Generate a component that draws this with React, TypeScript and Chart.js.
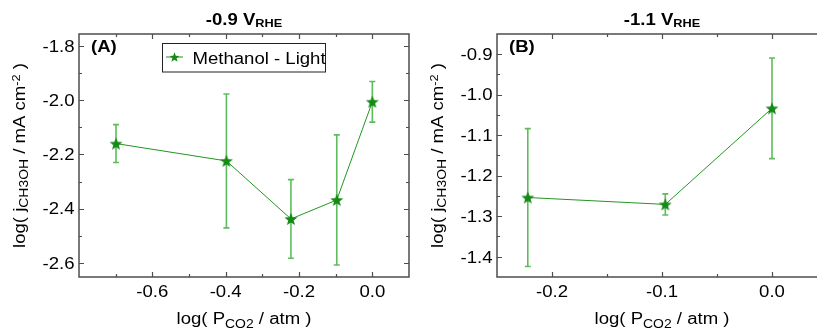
import React, { useEffect, useRef } from 'react';
import { Chart, registerables } from 'chart.js';
Chart.register(...registerables);

// ---------- data ----------
const xA = [-0.699, -0.398, -0.222, -0.097, 0];
const yA = [-2.16, -2.224, -2.438, -2.368, -2.006];
const errA = [0.07, 0.247, 0.145, 0.24, 0.075];

const xB = [-0.222, -0.097, 0];
const yB = [-1.254, -1.271, -1.034];
const errB = [0.17, 0.026, 0.124];

const xTicksA = [-0.6, -0.4, -0.2, 0];
const xTickLabelsA = ['-0.6', '-0.4', '-0.2', '0.0'];
const xMinorA = [-0.7, -0.5, -0.3, -0.1];
const yTicksA = [-2.6, -2.4, -2.2, -2.0, -1.8];
const yTickLabelsA = ['-2.6', '-2.4', '-2.2', '-2.0', '-1.8'];
const yMinorA = [-2.5, -2.3, -2.1, -1.9];

const xTicksB = [-0.2, -0.1, 0];
const xTickLabelsB = ['-0.2', '-0.1', '0.0'];
const xMinorB = [-0.15, -0.05];
const yTicksB = [-1.4, -1.3, -1.2, -1.1, -1.0, -0.9];
const yTickLabelsB = ['-1.4', '-1.3', '-1.2', '-1.1', '-1.0', '-0.9'];
const yMinorB = [-1.35, -1.25, -1.15, -1.05, -0.95];

const seriesName = 'Methanol - Light';

// ---------- style ----------
const FONT = '"Liberation Sans", Arial, sans-serif';
const SX = 1.16;
const LINE = 'rgb(34,150,34)';
const STAR = 'rgb(22,138,22)';
const ERR = 'rgba(40,165,40,0.75)';
const FRAME = '#4d4d4d';

type Seg = { t: string; size: number; bold?: boolean; dy?: number };

function fontOf(s: Seg) {
  return `${s.bold ? 'bold ' : ''}${s.size}px ${FONT}`;
}

function drawRich(ctx: CanvasRenderingContext2D, segs: Seg[], x: number, y: number, align: string) {
  const widths = segs.map((s) => {
    ctx.font = fontOf(s);
    return ctx.measureText(s.t).width;
  });
  const total = widths.reduce((a, b) => a + b, 0) * SX;
  const start = align === 'center' ? x - total / 2 : align === 'right' ? x - total : x;
  ctx.save();
  ctx.translate(start, y);
  ctx.scale(SX, 1);
  ctx.textAlign = 'left';
  ctx.textBaseline = 'alphabetic';
  let cx = 0;
  segs.forEach((s, i) => {
    ctx.font = fontOf(s);
    ctx.fillText(s.t, cx, s.dy || 0);
    cx += widths[i];
  });
  ctx.restore();
}

function drawStar(ctx: CanvasRenderingContext2D, cx: number, cy: number, R: number, r: number, color: string) {
  ctx.save();
  ctx.beginPath();
  for (let i = 0; i < 10; i++) {
    const rad = i % 2 === 0 ? R : r;
    const a = -Math.PI / 2 + (i * Math.PI) / 5;
    const px = cx + rad * Math.cos(a);
    const py = cy + rad * Math.sin(a);
    if (i === 0) ctx.moveTo(px, py);
    else ctx.lineTo(px, py);
  }
  ctx.closePath();
  ctx.fillStyle = color;
  ctx.fill();
  ctx.restore();
}

function makeStarCanvas() {
  const c = document.createElement('canvas');
  c.width = 16;
  c.height = 16;
  const g = c.getContext('2d')!;
  drawStar(g, 8, 8.6, 6.8, 2.9, STAR);
  return c;
}

type Panel = {
  xs: number[]; ys: number[]; errs: number[];
  xMin: number; xMax: number; yMin: number; yMax: number;
  xTicks: number[]; xLabels: string[]; xMinor: number[];
  yTicks: number[]; yLabels: string[]; yMinor: number[];
  width: number; axisW: number; padRight: number;
  title: string; tag: string; legend: boolean;
};

const panels: Panel[] = [
  {
    xs: xA, ys: yA, errs: errA,
    xMin: -0.8, xMax: 0.1, yMin: -2.652, yMax: -1.756,
    xTicks: xTicksA, xLabels: xTickLabelsA, xMinor: xMinorA,
    yTicks: yTicksA, yLabels: yTickLabelsA, yMinor: yMinorA,
    width: 410, axisW: 79, padRight: 1,
    title: '-0.9 V', tag: '(A)', legend: true,
  },
  {
    xs: xB, ys: yB, errs: errB,
    xMin: -0.25, xMax: 0.05, yMin: -1.45, yMax: -0.8507,
    xTicks: xTicksB, xLabels: xTickLabelsB, xMinor: xMinorB,
    yTicks: yTicksB, yLabels: yTickLabelsB, yMinor: yMinorB,
    width: 420, axisW: 87, padRight: 3,
    title: '-1.1 V', tag: '(B)', legend: false,
  },
];

function makePlugin(p: Panel) {
  return {
    id: 'decor',
    beforeDatasetsDraw(chart: any) {
      const ctx: CanvasRenderingContext2D = chart.ctx;
      const xs = chart.scales.x;
      const ys = chart.scales.y;
      ctx.save();
      ctx.strokeStyle = ERR;
      ctx.lineWidth = 1.6;
      p.xs.forEach((xv, i) => {
        const px = xs.getPixelForValue(xv);
        const top = ys.getPixelForValue(p.ys[i] + p.errs[i]);
        const bot = ys.getPixelForValue(p.ys[i] - p.errs[i]);
        ctx.beginPath();
        ctx.moveTo(px, top);
        ctx.lineTo(px, bot);
        ctx.moveTo(px - 3, top);
        ctx.lineTo(px + 3, top);
        ctx.moveTo(px - 3, bot);
        ctx.lineTo(px + 3, bot);
        ctx.stroke();
      });
      ctx.restore();
    },
    afterDraw(chart: any) {
      const ctx: CanvasRenderingContext2D = chart.ctx;
      const { left, right, top, bottom } = chart.chartArea;
      const xs = chart.scales.x;
      const ys = chart.scales.y;
      ctx.save();
      // frame
      ctx.strokeStyle = FRAME;
      ctx.lineWidth = 1.5;
      ctx.strokeRect(left, top, right - left, bottom - top);
      // ticks (inward, mirrored)
      ctx.lineWidth = 1.2;
      ctx.beginPath();
      const xt = (v: number, len: number) => {
        const px = Math.round(xs.getPixelForValue(v)) + 0.5;
        ctx.moveTo(px, bottom);
        ctx.lineTo(px, bottom - len);
        ctx.moveTo(px, top);
        ctx.lineTo(px, top + len);
      };
      const yt = (v: number, len: number) => {
        const py = Math.round(ys.getPixelForValue(v)) + 0.5;
        ctx.moveTo(left, py);
        ctx.lineTo(left + len, py);
        ctx.moveTo(right, py);
        ctx.lineTo(right - len, py);
      };
      p.xTicks.forEach((v) => xt(v, 5));
      p.xMinor.forEach((v) => xt(v, 3));
      p.yTicks.forEach((v) => yt(v, 5));
      p.yMinor.forEach((v) => yt(v, 3));
      ctx.stroke();

      ctx.fillStyle = '#000';
      // tick labels
      p.xTicks.forEach((v, i) => {
        drawRich(ctx, [{ t: p.xLabels[i], size: 16 }], xs.getPixelForValue(v), bottom + 20, 'center');
      });
      p.yTicks.forEach((v, i) => {
        drawRich(ctx, [{ t: p.yLabels[i], size: 16 }], left - 4.5, ys.getPixelForValue(v) + 5.8, 'right');
      });
      // axis titles
      const cxPlot = (left + right) / 2;
      drawRich(
        ctx,
        [
          { t: 'log( P', size: 16 },
          { t: 'CO2', size: 12, dy: 4 },
          { t: ' / atm )', size: 16 },
        ],
        cxPlot, 323.5, 'center'
      );
      ctx.save();
      ctx.translate(left - 54, (top + bottom) / 2);
      ctx.rotate(-Math.PI / 2);
      drawRich(
        ctx,
        [
          { t: 'log( j', size: 16 },
          { t: 'CH3OH', size: 12, dy: 3 },
          { t: ' / mA cm', size: 16 },
          { t: '-2', size: 11, dy: -5.5 },
          { t: ' )', size: 16 },
        ],
        0, 0, 'center'
      );
      ctx.restore();
      // panel title
      drawRich(
        ctx,
        [
          { t: p.title, size: 16, bold: true },
          { t: 'RHE', size: 11, bold: true, dy: 1.5 },
        ],
        cxPlot, 25, 'center'
      );
      // tag
      drawRich(ctx, [{ t: p.tag, size: 16, bold: true }], left + 12, 51.5, 'left');
      // legend
      if (p.legend) {
        const bx = left + 83;
        const by = top + 8.5;
        ctx.strokeStyle = '#222';
        ctx.lineWidth = 1;
        ctx.strokeRect(Math.round(bx) + 0.5, Math.round(by) + 0.5, 163, 28.5);
        const ly = by + 14.5;
        ctx.strokeStyle = LINE;
        ctx.lineWidth = 1;
        ctx.beginPath();
        ctx.moveTo(bx + 4, ly);
        ctx.lineTo(bx + 21, ly);
        ctx.stroke();
        drawStar(ctx, bx + 12.5, ly + 0.5, 5.2, 2.2, STAR);
        ctx.fillStyle = '#000';
        drawRich(ctx, [{ t: seriesName, size: 16 }], bx + 30.5, by + 21, 'left');
      }
      ctx.restore();
    },
  };
}

function PanelChart({ p, left }: { p: Panel; left: number }) {
  const ref = useRef<HTMLCanvasElement | null>(null);
  useEffect(() => {
    if (!ref.current) return;
    const star = makeStarCanvas();
    const chart = new Chart(ref.current, {
      type: 'line',
      data: {
        datasets: [
          {
            label: seriesName,
            data: p.xs.map((x, i) => ({ x, y: p.ys[i] })),
            borderColor: LINE,
            backgroundColor: STAR,
            borderWidth: 1,
            pointStyle: star as any,
            pointRadius: 7,
            pointHoverRadius: 7,
            tension: 0,
            fill: false,
          },
        ],
      },
      options: {
        animation: false,
        responsive: false,
        devicePixelRatio: 1,
        events: [],
        layout: { autoPadding: false, padding: { left: 0, right: p.padRight, top: 34, bottom: 0 } },
        plugins: { legend: { display: false }, tooltip: { enabled: false }, title: { display: false } },
        scales: {
          x: {
            type: 'linear',
            min: p.xMin,
            max: p.xMax,
            grid: { display: false, drawTicks: false },
            border: { display: false },
            ticks: { display: false },
            afterBuildTicks: (s: any) => { s.ticks = p.xTicks.map((v) => ({ value: v })); },
            afterFit: (s: any) => { s.height = 52; },
          },
          y: {
            type: 'linear',
            min: p.yMin,
            max: p.yMax,
            grid: { display: false, drawTicks: false },
            border: { display: false },
            ticks: { display: false },
            afterBuildTicks: (s: any) => { s.ticks = p.yTicks.map((v) => ({ value: v })); },
            afterFit: (s: any) => { s.width = p.axisW; },
          },
        },
      } as any,
      plugins: [makePlugin(p)],
    });
    return () => chart.destroy();
  }, [p]);
  return (
    <canvas
      ref={ref}
      width={p.width}
      height={329}
      style={{ position: 'absolute', left, top: 0, width: p.width, height: 329 }}
    />
  );
}

export default function App() {
  return (
    <div
      style={{
        position: 'fixed',
        left: 0,
        top: 0,
        width: 817,
        height: 329,
        overflow: 'hidden',
        background: '#fff',
      }}
    >
      <PanelChart p={panels[0]} left={0} />
      <PanelChart p={panels[1]} left={410} />
    </div>
  );
}
